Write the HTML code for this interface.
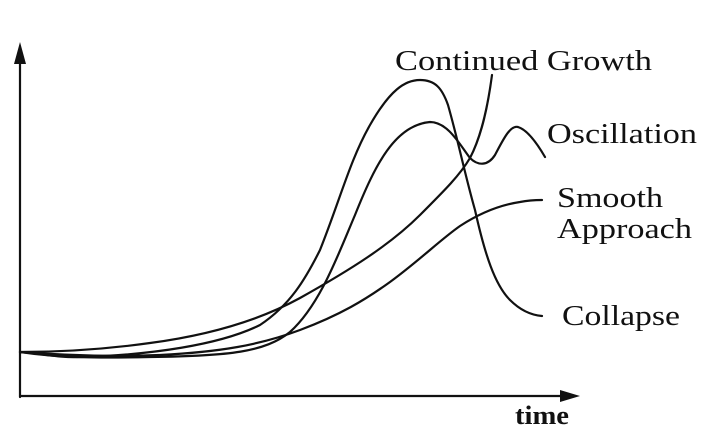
<!DOCTYPE html>
<html><head><style>
html,body{margin:0;padding:0;background:#fff;}
svg{display:block;}
text{font-family:"Liberation Serif","Times New Roman",serif;fill:#111;}
</style></head><body>
<svg width="708" height="433" viewBox="0 0 708 433" xmlns="http://www.w3.org/2000/svg">
<g stroke="#111" stroke-width="2.2" fill="none" stroke-linecap="round">
<line x1="20" y1="56" x2="20" y2="397"/>
<line x1="20" y1="396" x2="568" y2="396"/>
<!-- Collapse -->
<path d="M20,352 C45,354 60,358 80,357 C150,355 220,345 260,325 C290,305 305,280 320,250 C340,200 350,160 370,125 C390,90 405,80 420,80 C435,80 442,88 448,105 C458,140 465,175 475,210 C485,255 495,285 510,300 C520,310 530,315 542,316"/>
<!-- Oscillation -->
<path d="M20,352 C60,358 100,358 150,357 C230,356 265,352 290,332 C320,305 338,255 355,215 C375,165 395,125 430,122 C448,122 460,145 470,158 C478,166 488,166 495,155 C503,140 510,125 518,127 C528,130 538,145 545,157"/>
<!-- Continued growth -->
<path d="M20,352 C60,352 100,350 150,343 C210,335 260,320 300,298 C350,270 390,245 420,215 C445,190 460,175 470,158 C482,135 488,105 492,75"/>
<!-- Smooth approach -->
<path d="M20,352 C60,355 110,357 160,355 C220,352 260,345 300,330 C340,315 365,300 390,282 C420,260 440,240 460,226 C480,213 500,205 520,202 C530,200 537,200 542,200"/>
</g>
<polygon points="20,42 14,64 26,64" fill="#111"/>
<polygon points="580,396 560,390 560,402" fill="#111"/>
<text x="395" y="70" font-size="28" textLength="257" lengthAdjust="spacingAndGlyphs">Continued Growth</text>
<text x="547" y="143" font-size="28" textLength="150" lengthAdjust="spacingAndGlyphs">Oscillation</text>
<text x="557" y="207" font-size="28" textLength="106" lengthAdjust="spacingAndGlyphs">Smooth</text>
<text x="557" y="238" font-size="28" textLength="135" lengthAdjust="spacingAndGlyphs">Approach</text>
<text x="562" y="325" font-size="28" textLength="118" lengthAdjust="spacingAndGlyphs">Collapse</text>
<text x="515" y="424" font-size="26" font-weight="bold" textLength="54" lengthAdjust="spacingAndGlyphs">time</text>
</svg>
</body></html>
